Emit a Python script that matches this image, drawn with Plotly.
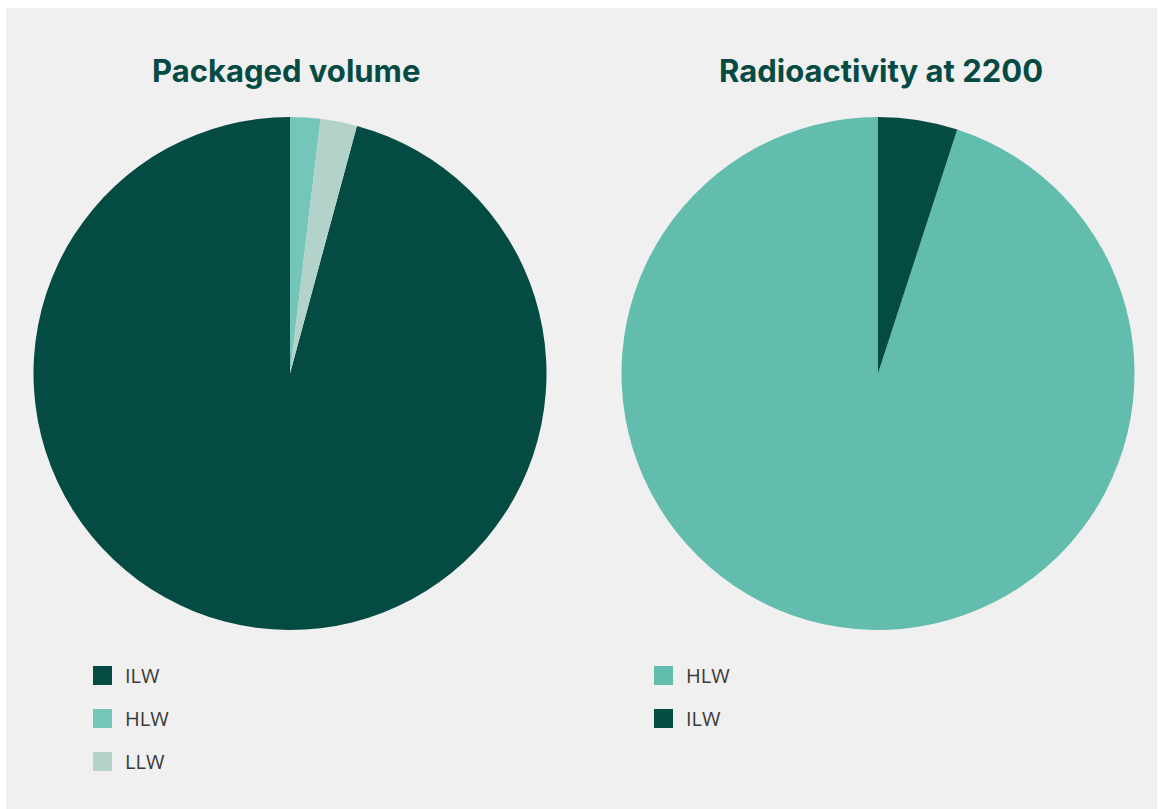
import plotly.graph_objects as go

W, H = 1158, 809

# Data
labels_volume = ["ILW", "HLW", "LLW"]
values_volume = [95.8, 1.9, 2.3]
colors_volume = ["#044b43", "#74c6bb", "#b3d3ca"]

labels_activity = ["HLW", "ILW"]
values_activity = [95.0, 5.0]
colors_activity = ["#62bdae", "#044b43"]

titles = ["Packaged volume", "Radioactivity at 2200"]

BG = "#eff0ef"


def px_x(x):
    return x / W


def px_y(y):
    return (H - y) / H


fig = go.Figure()

# rotation so that the first slice (legend order) starts after the others
rot1 = 360 * sum(values_volume[1:]) / sum(values_volume)
rot2 = 360 * sum(values_activity[1:]) / sum(values_activity)

fig.add_trace(go.Pie(
    labels=labels_volume, values=values_volume, sort=False,
    direction="clockwise", rotation=rot1,
    marker=dict(colors=colors_volume, line=dict(width=0)),
    textinfo="none", hoverinfo="label+percent", showlegend=False,
    domain=dict(x=[px_x(33), px_x(547)], y=[px_y(630), px_y(117)]),
))
fig.add_trace(go.Pie(
    labels=labels_activity, values=values_activity, sort=False,
    direction="clockwise", rotation=rot2,
    marker=dict(colors=colors_activity, line=dict(width=0)),
    textinfo="none", hoverinfo="label+percent", showlegend=False,
    domain=dict(x=[px_x(621), px_x(1135)], y=[px_y(630), px_y(117)]),
))

# legend entries (square swatches)
for lab, col in zip(labels_volume, colors_volume):
    fig.add_trace(go.Scatter(
        x=[None], y=[None], mode="markers", name=lab, legend="legend",
        legendgroup="v_" + lab,
        marker=dict(symbol="square", size=16, color=col, line=dict(color=col, width=3)),
    ))
for lab, col in zip(labels_activity, colors_activity):
    fig.add_trace(go.Scatter(
        x=[None], y=[None], mode="markers", name=lab, legend="legend2",
        legendgroup="a_" + lab,
        marker=dict(symbol="square", size=16, color=col, line=dict(color=col, width=3)),
    ))

legend_font = dict(family="Open Sans", size=20, color="#3a3a3a")
fig.update_layout(
    width=W, height=H,
    margin=dict(l=0, r=0, t=0, b=0),
    paper_bgcolor="white",
    plot_bgcolor="rgba(0,0,0,0)",
    xaxis=dict(visible=False),
    yaxis=dict(visible=False),
    shapes=[dict(type="rect", xref="paper", yref="paper",
                 x0=px_x(6), x1=px_x(1157), y0=0, y1=px_y(8),
                 fillcolor=BG, line=dict(width=0), layer="below")],
    legend=dict(x=px_x(80), y=px_y(656), xanchor="left", yanchor="top",
                font=legend_font, bgcolor="rgba(0,0,0,0)", itemwidth=35,
                tracegroupgap=14, traceorder="grouped"),
    legend2=dict(x=px_x(641), y=px_y(656), xanchor="left", yanchor="top",
                 font=legend_font, bgcolor="rgba(0,0,0,0)", itemwidth=35,
                 tracegroupgap=14, traceorder="grouped"),
    annotations=[
        dict(text="<b>%s</b>" % titles[0], x=px_x(286), y=px_y(70),
             xref="paper", yref="paper", showarrow=False,
             xanchor="center", yanchor="middle",
             font=dict(family="Inter", size=31, color="#054a43")),
        dict(text="<b>%s</b>" % titles[1], x=px_x(881), y=px_y(70),
             xref="paper", yref="paper", showarrow=False,
             xanchor="center", yanchor="middle",
             font=dict(family="Inter", size=31, color="#054a43")),
    ],
)

fig.write_html("out.html")
